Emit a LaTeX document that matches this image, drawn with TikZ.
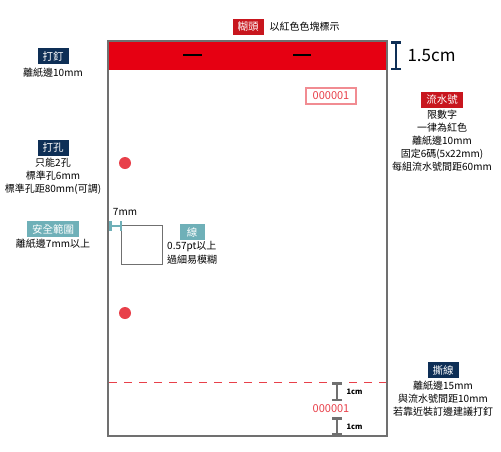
\documentclass[tikz,border=0pt]{standalone}
\usepackage{fontspec}
\setmainfont{Noto Sans CJK TC}
\usetikzlibrary{arrows.meta}
\usepackage{xcolor}
\definecolor{bandred}{HTML}{E60012}
\definecolor{tagred}{HTML}{C8161E}
\definecolor{numred}{HTML}{E8404A}
\definecolor{navy}{HTML}{0E2F56}
\definecolor{teal}{HTML}{6FB0B8}
\definecolor{paper}{HTML}{707070}

\tikzset{
  tag/.style={fill=#1, text=white, inner xsep=5pt, inner ysep=0pt,
    minimum height=16pt, font=\fontsize{10.5}{12}\selectfont},
  note/.style={align=center, inner sep=0pt, font=\fontsize{10}{13}\selectfont},
  gauge/.style={line width=2.5pt, {Bar[width=10pt,line width=2.5pt]}-{Bar[width=10pt,line width=2.5pt]}},
}

\begin{document}
\begin{tikzpicture}[x=1pt,y=-1pt]
  \useasboundingbox (0,0) rectangle (501,451);
  % paper and glue band
  \fill[bandred] (108,41) rectangle (387,70);
  \draw[paper, line width=1.5pt] (108,41) rectangle (387,436);
  \draw[black, line width=2pt] (183,55) -- (202,55);
  \draw[black, line width=2pt] (293,55) -- (311,55);
  \draw[numred, line width=1pt, dash pattern=on 8pt off 7pt] (109,382) -- (386,382);
  % holes and line sample
  \fill[numred] (125,163) circle (6);
  \fill[numred] (125,313) circle (6);
  \draw[paper, line width=0.8pt] (121,225) rectangle (162,264);

  \node[tag=tagred](H) at (248,27) {糊頭};
  \node[anchor=west, font=\fontsize{10}{12}\selectfont](Ht) at (266,27) {以紅色色塊標示};
  \coordinate(Gt) at (396,41);
  \coordinate(Gb) at (396,70);
  \draw[gauge, navy] (Gt) -- (Gb);
  \node[anchor=west, font=\fontsize{17}{20}\selectfont](G) at (404,56) {1.5cm};

  \node[tag=navy](N) at (53,56) {打釘};
  \node[note](Nt) at (53,73) {離紙邊10mm};

  \node[tag=tagred](S) at (442,100) {流水號};
  \node[note, anchor=north](St) at (442,110) {限數字\\一律為紅色\\離紙邊10mm\\固定6碼(5x22mm)\\每組流水號間距60mm};
  \node[draw=numred!60, text=numred, line width=1.2pt, minimum width=50pt, minimum height=16pt,
    inner sep=0pt, font=\fontsize{11}{12}\selectfont](S1) at (331,96) {000001};

  \node[tag=navy](P) at (53,148) {打孔};
  \node[note, anchor=north](Pt) at (53,158) {只能2孔\\標準孔6mm\\標準孔距80mm(可調)};

  \node[tag=teal](A) at (53,229) {安全範圍};
  \node[note](At) at (53,244) {離紙邊7mm以上};
  \coordinate(Al) at (109,226);
  \coordinate(Ar) at (122,226);
  \draw[gauge, teal] (Al) -- (Ar);
  \node[font=\fontsize{10}{12}\selectfont](Am) at (125,212) {7mm};

  \node[tag=teal, minimum width=25pt](L) at (192,232) {線};
  \node[note, align=left, anchor=north west, font=\fontsize{10}{14}\selectfont](Lt) at (167,241) {0.57pt以上\\過細易模糊};

  \node[tag=navy](T) at (443,370) {撕線};
  \node[note, anchor=north](Tt) at (443,381) {離紙邊15mm\\與流水號間距10mm\\若靠近裝訂邊建議打釘};

  % bottom gauges
  \coordinate(B1) at (337,382);
  \coordinate(B2) at (337,401);
  \coordinate(B3) at (337,417);
  \coordinate(B4) at (337,435);
  \draw[gauge, paper] (B1) -- (B2);
  \draw[gauge, paper] (B3) -- (B4);
  \node[anchor=west, font=\fontsize{7.5}{9}\selectfont\bfseries](C1) at (343,392) {1cm};
  \node[anchor=west, font=\fontsize{7.5}{9}\selectfont\bfseries](C2) at (343,427) {1cm};
  \node[text=numred, font=\fontsize{11}{12}\selectfont](S2) at (331,409) {000001};
\end{tikzpicture}
\end{document}
